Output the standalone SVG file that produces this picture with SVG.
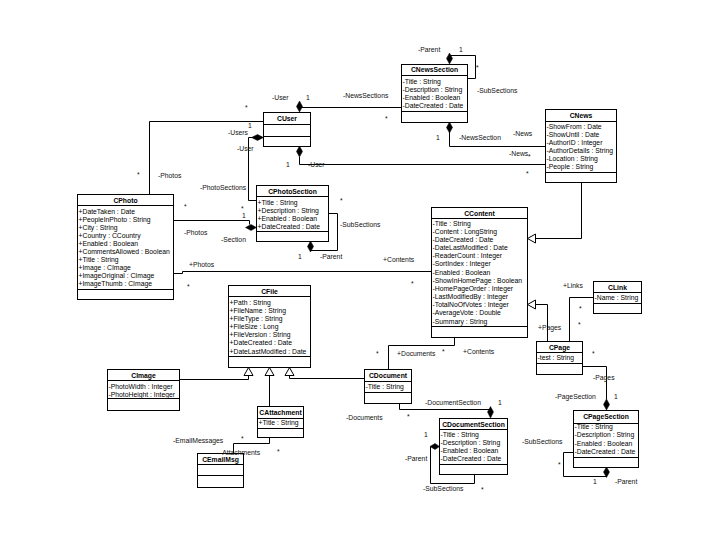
<svg xmlns="http://www.w3.org/2000/svg" width="720" height="540" viewBox="0 0 720 540">
<style>
.box{fill:#fff;stroke:#000;stroke-width:1}
.sep{fill:none;stroke:#000;stroke-width:1}
.t{font-family:"Liberation Sans",Arial,sans-serif;font-size:6.8px;fill:#000}
.n{font-weight:bold;text-anchor:middle}
.c{fill:none;stroke:#000;stroke-width:1}
.d{fill:#000;stroke:#000;stroke-width:0.5}
.g{fill:#fff;stroke:#000;stroke-width:1}
.l{font-family:"Liberation Sans",Arial,sans-serif;font-size:6.8px;fill:#111}
</style>
<rect width="720" height="540" fill="#fff"/>
<g id="CNewsSection">
<rect class="box" x="401.5" y="64.5" width="66" height="58"/>
<path class="sep" d="M401.5,75.5H467.5M401.5,111.5H467.5"/>
<text class="t n" x="434.5" y="72">CNewsSection</text>
<text class="t" x="402.5" y="83.5">-Title : String</text>
<text class="t" x="402.5" y="91.5">-Description : String</text>
<text class="t" x="402.5" y="99.5">-Enabled : Boolean</text>
<text class="t" x="402.5" y="107.5">-DateCreated : Date</text>
</g>
<g id="CUser">
<rect class="box" x="263.5" y="112.5" width="47" height="34"/>
<path class="sep" d="M263.5,124.5H310.5M263.5,136.5H310.5"/>
<text class="t n" x="287" y="121">CUser</text>
</g>
<g id="CNews">
<rect class="box" x="545.5" y="109.5" width="71" height="73"/>
<path class="sep" d="M545.5,121.5H616.5M545.5,172.5H616.5"/>
<text class="t n" x="581" y="118">CNews</text>
<text class="t" x="546.5" y="128.5">-ShowFrom : Date</text>
<text class="t" x="546.5" y="136.5">-ShowUntil : Date</text>
<text class="t" x="546.5" y="144.5">-AuthorID : Integer</text>
<text class="t" x="546.5" y="152.5">-AuthorDetails : String</text>
<text class="t" x="546.5" y="160.5">-Location : String</text>
<text class="t" x="546.5" y="168.5">-People : String</text>
</g>
<g id="CContent">
<rect class="box" x="431.5" y="207.5" width="96" height="130"/>
<path class="sep" d="M431.5,218.5H527.5M431.5,326.5H527.5"/>
<text class="t n" x="479.5" y="215.5">CContent</text>
<text class="t" x="432.5" y="225.5">-Title : String</text>
<text class="t" x="432.5" y="233.7">-Content : LongString</text>
<text class="t" x="432.5" y="241.8">-DateCreated : Date</text>
<text class="t" x="432.5" y="250">-DateLastModified : Date</text>
<text class="t" x="432.5" y="258.2">-ReaderCount : Integer</text>
<text class="t" x="432.5" y="266.4">-SortIndex : Integer</text>
<text class="t" x="432.5" y="274.5">-Enabled : Boolean</text>
<text class="t" x="432.5" y="282.7">-ShowInHomePage : Boolean</text>
<text class="t" x="432.5" y="290.9">-HomePageOrder : Integer</text>
<text class="t" x="432.5" y="299">-LastModifiedBy : Integer</text>
<text class="t" x="432.5" y="307.2">-TotalNoOfVotes : Integer</text>
<text class="t" x="432.5" y="315.4">-AverageVote : Double</text>
<text class="t" x="432.5" y="323.5">-Summary : String</text>
</g>
<g id="CPhoto">
<rect class="box" x="77.5" y="194.5" width="96" height="105"/>
<path class="sep" d="M77.5,205.5H173.5M77.5,289.5H173.5"/>
<text class="t n" x="125.5" y="202.5">CPhoto</text>
<text class="t" x="78.5" y="213.5">+DateTaken : Date</text>
<text class="t" x="78.5" y="221.5">+PeopleInPhoto : String</text>
<text class="t" x="78.5" y="229.5">+City : String</text>
<text class="t" x="78.5" y="237.5">+Country : CCountry</text>
<text class="t" x="78.5" y="245.5">+Enabled : Boolean</text>
<text class="t" x="78.5" y="253.5">+CommentsAllowed : Boolean</text>
<text class="t" x="78.5" y="261.5">+Title : String</text>
<text class="t" x="78.5" y="269.5">+Image : CImage</text>
<text class="t" x="78.5" y="277.5">+ImageOriginal : CImage</text>
<text class="t" x="78.5" y="285.5">+ImageThumb : CImage</text>
</g>
<g id="CPhotoSection">
<rect class="box" x="256.5" y="185.5" width="72" height="56"/>
<path class="sep" d="M256.5,196.5H328.5M256.5,231.5H328.5"/>
<text class="t n" x="292.5" y="193.5">CPhotoSection</text>
<text class="t" x="257.5" y="204.5">+Title : String</text>
<text class="t" x="257.5" y="212.5">+Description : String</text>
<text class="t" x="257.5" y="220.5">+Enabled : Boolean</text>
<text class="t" x="257.5" y="228.5">+DateCreated : Date</text>
</g>
<g id="CFile">
<rect class="box" x="228.5" y="285.5" width="82" height="82"/>
<path class="sep" d="M228.5,296.5H310.5M228.5,356.5H310.5"/>
<text class="t n" x="269.5" y="293.5">CFile</text>
<text class="t" x="229.5" y="304.5">+Path : String</text>
<text class="t" x="229.5" y="312.7">+FileName : String</text>
<text class="t" x="229.5" y="320.8">+FileType : String</text>
<text class="t" x="229.5" y="329">+FileSize : Long</text>
<text class="t" x="229.5" y="337.2">+FileVersion : String</text>
<text class="t" x="229.5" y="345.4">+DateCreated : Date</text>
<text class="t" x="229.5" y="353.5">+DateLastModified : Date</text>
</g>
<g id="CImage">
<rect class="box" x="107.5" y="369.5" width="72" height="41"/>
<path class="sep" d="M107.5,380.5H179.5M107.5,398.5H179.5"/>
<text class="t n" x="143.5" y="377.5">CImage</text>
<text class="t" x="108.5" y="388.5">-PhotoWidth : Integer</text>
<text class="t" x="108.5" y="396.5">-PhotoHeight : Integer</text>
</g>
<g id="CAttachment">
<rect class="box" x="257.5" y="406.5" width="46" height="31"/>
<path class="sep" d="M257.5,418.5H303.5M257.5,428.5H303.5"/>
<text class="t n" x="280.5" y="415">CAttachment</text>
<text class="t" x="258.5" y="425">+Title : String</text>
</g>
<g id="CEmailMsg">
<rect class="box" x="197.5" y="453.5" width="46" height="34"/>
<path class="sep" d="M197.5,464.5H243.5M197.5,475.5H243.5"/>
<text class="t n" x="220.5" y="462">CEmailMsg</text>
</g>
<g id="CDocument">
<rect class="box" x="364.5" y="369.5" width="47" height="34"/>
<path class="sep" d="M364.5,381.5H411.5M364.5,392.5H411.5"/>
<text class="t n" x="388" y="378">CDocument</text>
<text class="t" x="365.5" y="388.5">-Title : String</text>
</g>
<g id="CDocumentSection">
<rect class="box" x="439.5" y="418.5" width="68" height="56"/>
<path class="sep" d="M439.5,429.5H507.5M439.5,464.5H507.5"/>
<text class="t n" x="473.5" y="426.5">CDocumentSection</text>
<text class="t" x="440.5" y="436.5">-Title : String</text>
<text class="t" x="440.5" y="444.5">-Description : String</text>
<text class="t" x="440.5" y="452.5">-Enabled : Boolean</text>
<text class="t" x="440.5" y="460.5">-DateCreated : Date</text>
</g>
<g id="CPage">
<rect class="box" x="536.5" y="341.5" width="46" height="33"/>
<path class="sep" d="M536.5,352.5H582.5M536.5,363.5H582.5"/>
<text class="t n" x="559.5" y="349.5">CPage</text>
<text class="t" x="537.5" y="359.5">-test : String</text>
</g>
<g id="CLink">
<rect class="box" x="593.5" y="281.5" width="48" height="32"/>
<path class="sep" d="M593.5,292.5H641.5M593.5,303.5H641.5"/>
<text class="t n" x="617.5" y="289.5">CLink</text>
<text class="t" x="594.5" y="299.5">-Name : String</text>
</g>
<g id="CPageSection">
<rect class="box" x="573.5" y="410.5" width="65" height="57"/>
<path class="sep" d="M573.5,423.5H638.5M573.5,457.5H638.5"/>
<text class="t n" x="606" y="419">CPageSection</text>
<text class="t" x="574.5" y="428.5">-Title : String</text>
<text class="t" x="574.5" y="437">-Description : String</text>
<text class="t" x="574.5" y="445.5">-Enabled : Boolean</text>
<text class="t" x="574.5" y="453.5">-DateCreated : Date</text>
</g>
<g id="connectors">
<path class="c" d="M299.5,107.5H401.5"/>
<polygon class="d" points="299.5,101 302.5,106.5 299.5,112 296.5,106.5"/>
<path class="c" d="M449.5,55.5H475.5V78.5H467.5"/>
<polygon class="d" points="449.5,53 452.5,58.5 449.5,64 446.5,58.5"/>
<path class="c" d="M449.5,132V146.5H545.5"/>
<polygon class="d" points="449.5,122 452.5,127.5 449.5,133 446.5,127.5"/>
<path class="c" d="M299.5,157V164.5H545.5"/>
<polygon class="d" points="299.5,146 302.5,151.5 299.5,157 296.5,151.5"/>
<path class="c" d="M263.5,121.5H149.5V194.5"/>
<path class="c" d="M252,137.5H248.5V200.5H256.5"/>
<polygon class="d" points="263.5,137.5 257.5,134.5 251.5,137.5 257.5,140.5"/>
<path class="c" d="M173.5,220.5H249.5V224.5"/>
<polygon class="d" points="256.5,227.5 251,224.5 245.5,227.5 251,230.5"/>
<path class="c" d="M328.5,213.5H337.5V250.5H310.5"/>
<polygon class="d" points="310.5,241 313.5,246.5 310.5,252 307.5,246.5"/>
<path class="c" d="M173.5,273.5H182.5V271.5H431.5"/>
<path class="c" d="M581.5,182.5V238.5H535.5"/>
<polygon class="g" points="527.5,238.5 535.5,234 535.5,243"/>
<path class="c" d="M547.5,341.5V304.5H535.5"/>
<polygon class="g" points="527.5,304.5 535.5,300 535.5,309"/>
<path class="c" d="M569.5,341.5V297.5H593.5"/>
<path class="c" d="M582.5,366.5H606.5V399.5"/>
<polygon class="d" points="606.5,399 609.5,404.5 606.5,410 603.5,404.5"/>
<path class="c" d="M573.5,452.5H563.5V476.5H606.5"/>
<polygon class="d" points="606.5,467 609.5,472 606.5,477.5 603.5,472"/>
<path class="c" d="M454.5,337.5V345.5H388.5V369.5"/>
<path class="c" d="M399.5,403.5V409.5H490.5V407"/>
<polygon class="d" points="490.5,406.5 493.5,412 490.5,418 487.5,412"/>
<path class="c" d="M430.5,446.5V483.5H474.5V474.5"/>
<polygon class="d" points="439.5,446.5 435,443.5 430,446.5 435,449.5"/>
<path class="c" d="M179.5,379.5H248.5V375.5"/>
<polygon class="g" points="248.5,367.5 244,375.5 253,375.5"/>
<path class="c" d="M269.5,406.5V375.5"/>
<polygon class="g" points="269.5,367.5 265,375.5 274,375.5"/>
<path class="c" d="M289.5,375.5V378.5H364.5"/>
<polygon class="g" points="289.5,367.5 285,375.5 294,375.5"/>
<path class="c" d="M269.5,437.5V443.5H233.5V453.5"/>
<text class="l" x="418" y="51.5">-Parent</text>
<text class="l" x="459" y="51.5">1</text>
<text class="l" x="476" y="70">*</text>
<text class="l" x="477" y="92.5">-SubSections</text>
<text class="l" x="272" y="99.5">-User</text>
<text class="l" x="306" y="99.5">1</text>
<text class="l" x="343" y="97.5">-NewsSections</text>
<text class="l" x="385" y="121">*</text>
<text class="l" x="245" y="110">*</text>
<text class="l" x="248" y="127.5">1</text>
<text class="l" x="228" y="134.5">-Users</text>
<text class="l" x="237" y="150.5">-User</text>
<text class="l" x="436" y="139.5">1</text>
<text class="l" x="459" y="139.5">-NewsSection</text>
<text class="l" x="513" y="135.5">-News</text>
<text class="l" x="286" y="166.5">1</text>
<text class="l" x="308" y="166.5">-User</text>
<text class="l" x="509" y="155.5">-News</text>
<text class="l" x="528" y="159">*</text>
<text class="l" x="526" y="176">*</text>
<text class="l" x="137" y="177">*</text>
<text class="l" x="158" y="177.5">-Photos</text>
<text class="l" x="200" y="189.5">-PhotoSections</text>
<text class="l" x="184" y="209">*</text>
<text class="l" x="241" y="211">*</text>
<text class="l" x="242" y="217.5">1</text>
<text class="l" x="184" y="234.5">-Photos</text>
<text class="l" x="221" y="241.5">-Section</text>
<text class="l" x="340" y="203">*</text>
<text class="l" x="340" y="226.5">-SubSections</text>
<text class="l" x="298" y="258.5">1</text>
<text class="l" x="320" y="258.5">-Parent</text>
<text class="l" x="189" y="266.5">+Photos</text>
<text class="l" x="187" y="289">*</text>
<text class="l" x="383" y="261.5">+Contents</text>
<text class="l" x="411" y="286">*</text>
<text class="l" x="563" y="287.5">+Links</text>
<text class="l" x="579" y="311">*</text>
<text class="l" x="578" y="327">*</text>
<text class="l" x="538" y="329.5">+Pages</text>
<text class="l" x="592" y="356">*</text>
<text class="l" x="593" y="379.5">-Pages</text>
<text class="l" x="555" y="398.5">-PageSection</text>
<text class="l" x="614" y="398.5">1</text>
<text class="l" x="522" y="443.5">-SubSections</text>
<text class="l" x="558" y="467">*</text>
<text class="l" x="593" y="483.5">1</text>
<text class="l" x="615" y="483.5">-Parent</text>
<text class="l" x="442" y="354">*</text>
<text class="l" x="463" y="353.5">+Contents</text>
<text class="l" x="397" y="355.5">+Documents</text>
<text class="l" x="376" y="356">*</text>
<text class="l" x="425" y="404.5">-DocumentSection</text>
<text class="l" x="498" y="404.5">1</text>
<text class="l" x="346" y="419.5">-Documents</text>
<text class="l" x="407" y="419">*</text>
<text class="l" x="424" y="436.5">1</text>
<text class="l" x="405" y="460.5">-Parent</text>
<text class="l" x="423" y="490.5">-SubSections</text>
<text class="l" x="481" y="492">*</text>
<text class="l" x="173" y="442.5">-EmailMessages</text>
<text class="l" x="241" y="441">*</text>
<text class="l" x="220" y="455">-Attachments</text>
<text class="l" x="277" y="454">*</text>
</g>
</svg>
